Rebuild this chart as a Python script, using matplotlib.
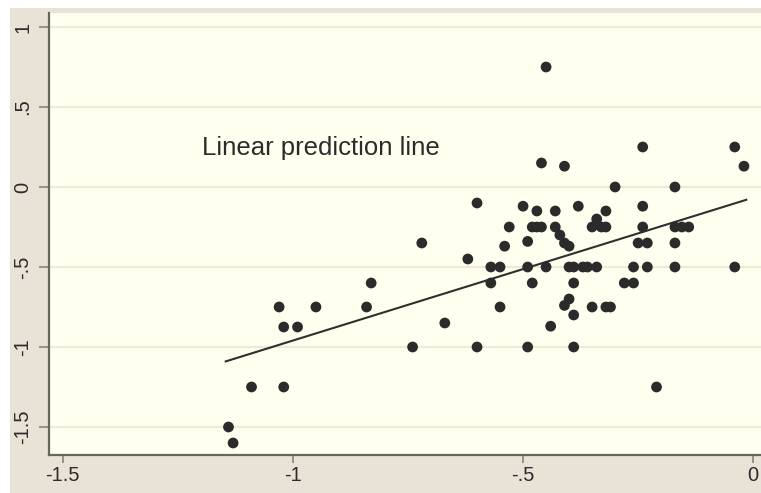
import matplotlib
matplotlib.use("Agg")
import matplotlib.pyplot as plt
from matplotlib.patches import Rectangle
import numpy as np

# ---- data ----
x_vals = [-1.14, -1.13, -1.09, -1.02, -1.03, -1.02, -0.99, -0.95, -0.84, -0.83,
          -0.74, -0.72, -0.67, -0.62, -0.60, -0.60, -0.57, -0.55, -0.57, -0.55,
          -0.54, -0.53, -0.50, -0.49, -0.49, -0.48, -0.49, -0.48, -0.47, -0.46,
          -0.47, -0.46, -0.45, -0.45, -0.44, -0.43, -0.43, -0.42, -0.41, -0.40,
          -0.41, -0.40, -0.39, -0.37, -0.36, -0.34, -0.39, -0.40, -0.41, -0.39,
          -0.39, -0.38, -0.35, -0.32, -0.31, -0.34, -0.35, -0.33, -0.32, -0.32,
          -0.30, -0.28, -0.26, -0.26, -0.24, -0.24, -0.24, -0.25, -0.23, -0.23,
          -0.21, -0.17, -0.17, -0.155, -0.14, -0.17, -0.17, -0.04, -0.02, -0.04]
y_vals = [-1.50, -1.60, -1.25, -1.25, -0.75, -0.875, -0.875, -0.75, -0.75, -0.60,
          -1.00, -0.35, -0.85, -0.45, -1.00, -0.10, -0.50, -0.50, -0.60, -0.75,
          -0.37, -0.25, -0.12, -0.34, -0.50, -0.60, -1.00, -0.25, -0.25, -0.25,
          -0.15, 0.15, 0.75, -0.50, -0.87, -0.15, -0.25, -0.30, -0.35, -0.37,
          0.13, -0.50, -0.50, -0.50, -0.50, -0.50, -0.60, -0.70, -0.74, -0.80,
          -1.00, -0.12, -0.75, -0.75, -0.75, -0.20, -0.25, -0.25, -0.25, -0.15,
          0.00, -0.60, -0.60, -0.50, 0.25, -0.12, -0.25, -0.35, -0.35, -0.50,
          -1.25, 0.00, -0.25, -0.25, -0.25, -0.35, -0.50, 0.25, 0.13, -0.50]

line_x = [-1.146, -0.015]
line_y = [-1.09, -0.08]

x_ticks = [-1.5, -1.0, -0.5, 0.0]
x_tick_labels = ["-1.5", "-1", "-.5", "0"]
y_ticks = [-1.5, -1.0, -0.5, 0.0, 0.5, 1.0]
y_tick_labels = ["-1.5", "-1", "-.5", "0", ".5", "1"]

annotation = "Linear prediction line"

# ---- figure ----
plt.rcParams['font.family'] = ['Liberation Sans', 'DejaVu Sans']
W, H = 761, 493
fig = plt.figure(figsize=(W / 100, H / 100), dpi=100, facecolor="white")
fig.patches.append(Rectangle((10 / W, 0), 1, 1 - 8 / H, transform=fig.transFigure,
                             facecolor="#e8e3d6", edgecolor="none", zorder=-10))

ax = fig.add_axes([49 / W, 38 / H, 1 - 49 / W, (455 - 13) / H])
ax.set_facecolor("#fffff0")
ax.set_xlim(-1.530, 0.017)
ax.set_ylim(-1.675, 1.0875)

for yt in y_ticks:
    ax.axhline(yt, color="#efe9d6", lw=1.6, zorder=0)

ax.scatter(x_vals, y_vals, s=60, color="#2b2b2b", edgecolors="none", zorder=3)
ax.plot(line_x, line_y, color="#2f2f2f", lw=1.5, zorder=2)

ax.text(-1.197, 0.245, annotation, fontsize=18.5, color="#2b2b2b",
        ha="left", va="center")

for s in ["top", "right"]:
    ax.spines[s].set_visible(False)
for s in ["left", "bottom"]:
    ax.spines[s].set_color("#66675a")
    ax.spines[s].set_linewidth(1.6)

ax.set_xticks(x_ticks)
ax.set_xticklabels(x_tick_labels)
ax.set_yticks(y_ticks)
ax.set_yticklabels(y_tick_labels, rotation=90, va="center")
ax.tick_params(axis="x", length=6, width=1.3, color="#8d8d80", pad=2,
               labelsize=14.5, labelcolor="#2b2b2b")
ax.tick_params(axis="y", length=7, width=1.3, color="#8d8d80", pad=5,
               labelsize=14.5, labelcolor="#2b2b2b")

fig.savefig("out.png", dpi=100, facecolor=fig.get_facecolor())
